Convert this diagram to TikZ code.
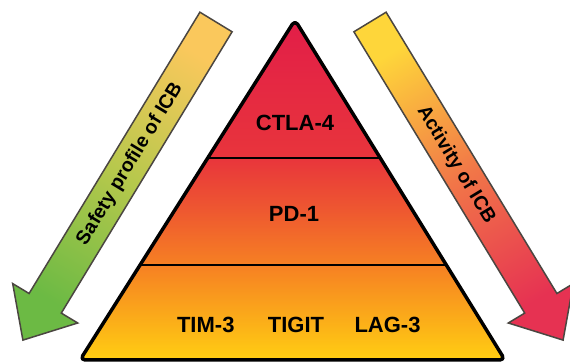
\documentclass[tikz,border=0pt]{standalone}
\usepackage{fontspec}
\setmainfont{Liberation Sans}
\usetikzlibrary{positioning,calc}

\definecolor{tiercrimson}{RGB}{226,30,72}
\definecolor{tierred}{RGB}{232,52,60}
\definecolor{tiermid}{RGB}{238,88,48}
\definecolor{tierorange}{RGB}{246,128,35}
\definecolor{tieryellow}{RGB}{255,206,18}
\definecolor{safetytop}{RGB}{250,200,92}
\definecolor{safetymid}{RGB}{182,200,76}
\definecolor{safetyend}{RGB}{108,186,68}
\definecolor{activitytop}{RGB}{254,214,58}
\definecolor{activitymid}{RGB}{241,118,72}
\definecolor{activityend}{RGB}{230,50,82}
\definecolor{arrowedge}{RGB}{75,70,65}

\pgfdeclareverticalshading{tiers}{100bp}{color(0bp)=(tieryellow); color(25bp)=(tieryellow); color(39bp)=(tierorange); color(47bp)=(tiermid); color(55bp)=(tierred); color(75bp)=(tiercrimson); color(100bp)=(tiercrimson)}

\begin{document}
\begin{tikzpicture}[x=1pt, y=1pt,
    tierlabel/.style={font=\bfseries\fontsize{22}{26}\selectfont, inner sep=0pt},
    arrowlabel/.style={font=\bfseries\fontsize{19.5}{23}\selectfont, inner sep=0pt},
    bigarrow/.style={draw=arrowedge, line width=1.5pt, line join=miter}]
    \clip (0,0) rectangle (570,363);
    \fill [white] (0,0) rectangle (570,363);

    % pyramid with three tiers
    \coordinate (top) at (295,343);
    \coordinate (bl) at (80,3);
    \coordinate (br) at (505,3);
    \shadedraw [shading=tiers, draw=black, line width=3.5pt, rounded corners=5pt, line join=round] (bl) -- (top) -- (br) -- cycle;
    \draw [line width=2pt] ($(bl)!0.594!(top)$) -- ($(br)!0.594!(top)$);
    \draw [line width=2pt] ($(bl)!0.279!(top)$) -- ($(br)!0.279!(top)$);

    \node [tierlabel] (ctla) at (295,240) {CTLA-4};
    \node [tierlabel] (pd) at (294,149) {PD-1};
    \node [tierlabel] (tigit) at (296,38) {TIGIT};
    \node [tierlabel, left=33pt of tigit] (tim) {TIM-3};
    \node [tierlabel, right=30pt of tigit] (lag) {LAG-3};

    % side arrows
    \shadedraw [bigarrow, top color=safetytop, bottom color=safetyend, middle color=safetymid, shading angle=-31.3]
        (199.9,350.8) -- (232.1,331.2) -- (61.3,49.9) -- (77.7,40.0) -- (22.9,22.9) -- (12.7,79.4) -- (29.1,69.5) -- cycle;
    \shadedraw [bigarrow, top color=activitytop, bottom color=activityend, middle color=activitymid, shading angle=31.3]
        (386.1,350.8) -- (353.9,331.2) -- (524.7,49.9) -- (508.3,40.0) -- (563.1,22.9) -- (573.3,79.4) -- (556.9,69.5) -- cycle;

    \node [arrowlabel, rotate=58.7] (safety) at (130,199) {Safety profile of ICB};
    \node [arrowlabel, rotate=-58.7] (activity) at (456,198) {Activity of ICB};

\end{tikzpicture}
\end{document}
